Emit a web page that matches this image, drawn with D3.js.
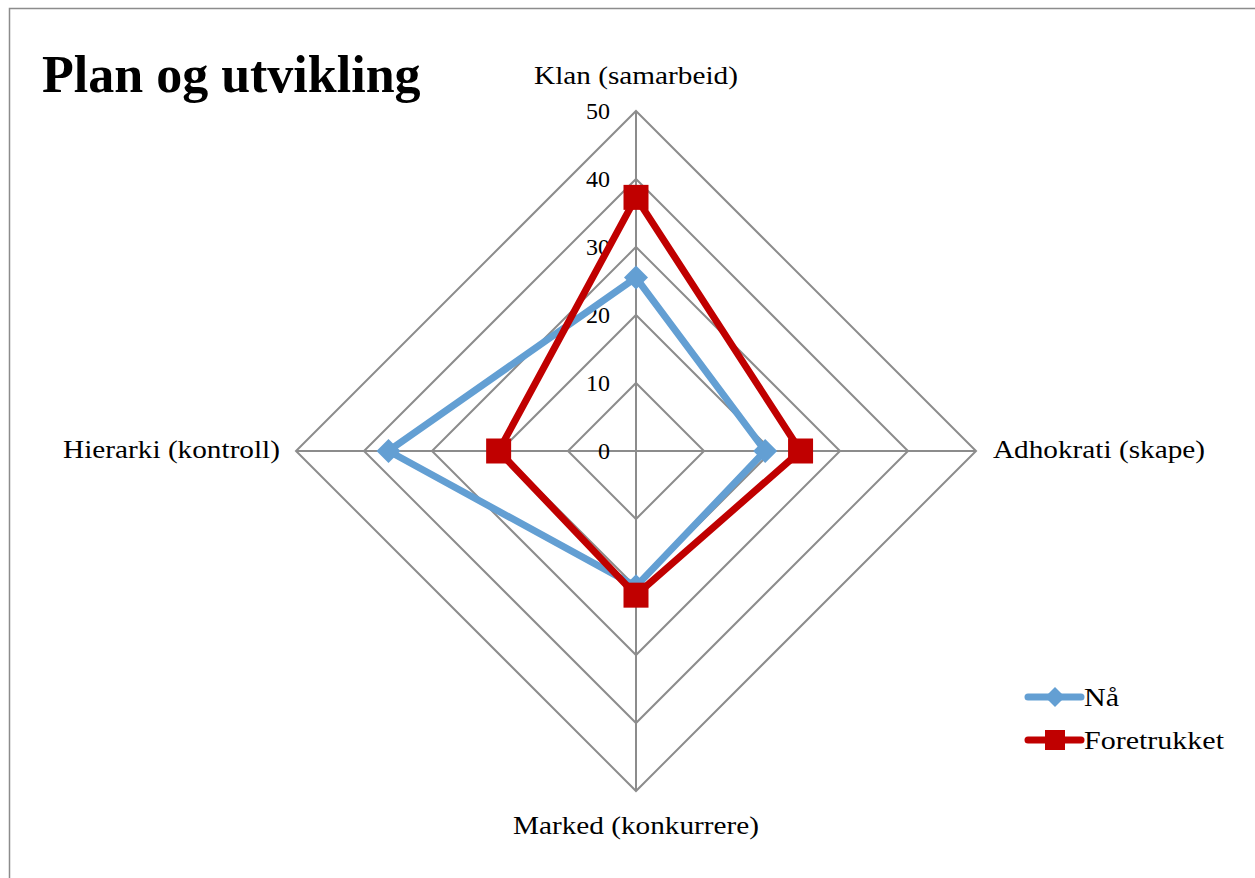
<!DOCTYPE html>
<html>
<head>
<meta charset="utf-8">
<script src="https://cdn.jsdelivr.net/npm/d3@7"></script>
<style>
  html, body { margin: 0; padding: 0; background: #fff; }
  svg { display: block; }
  text { font-family: "Liberation Serif", "DejaVu Serif", serif; fill: #000; }
</style>
</head>
<body>
<svg id="chart" width="1255" height="878"></svg>
<script>
// Axes of the culture profile (clockwise from top)
const categories = ["Klan (samarbeid)", "Adhokrati (skape)", "Marked (konkurrere)", "Hierarki (kontroll)"];
const seriesNames = ["Nå", "Foretrukket"];
const naValues = [25.5, 19.0, 19.9, 36.4];
const foretrukketValues = [37.3, 24.2, 21.2, 20.2];
const tickValues = [0, 10, 20, 30, 40, 50];

const svg = d3.select("#chart");
const cx = 636, cy = 451, R = 340;
const colors = { "Nå": "#639fd3", "Foretrukket": "#c00000" };

// widen the serif text a little so it sets like a book face
function widen(sel, k) {
  sel.each(function () {
    const w = this.getComputedTextLength();
    d3.select(this).attr("textLength", w * k).attr("lengthAdjust", "spacingAndGlyphs");
  });
}

// outer frame of the chart area
svg.append("path")
  .attr("d", "M9.5,878 L9.5,8.5 L1255,8.5")
  .attr("fill", "none").attr("stroke", "#8c8c8c").attr("stroke-width", 1.5);

svg.append("text").attr("x", 42).attr("y", 92)
  .attr("font-size", 52).attr("font-weight", "bold")
  .text("Plan og utvikling");

const r = d3.scaleLinear().domain([0, 50]).range([0, R]);
const angle = i => (i / categories.length) * 2 * Math.PI;
const pt = (i, v) => [cx + r(v) * Math.sin(angle(i)), cy - r(v) * Math.cos(angle(i))];

const grid = svg.append("g").attr("stroke", "#8c8c8c").attr("stroke-width", 2).attr("fill", "none");
tickValues.filter(t => t > 0).forEach(t => {
  grid.append("path").attr("d", d3.line()(categories.map((c, i) => pt(i, t))) + "Z");
});
categories.forEach((c, i) => {
  grid.append("line").attr("x1", cx).attr("y1", cy)
    .attr("x2", pt(i, 50)[0]).attr("y2", pt(i, 50)[1]);
});

// tick labels along the top spoke
svg.append("g").selectAll("text").data(tickValues).join("text")
  .attr("x", cx - 26).attr("y", d => cy - r(d))
  .attr("dy", "0.35em").attr("text-anchor", "end").attr("font-size", 24)
  .text(d => d);

// category labels
const labelPos = [
  { x: cx, y: 84, anchor: "middle" },
  { x: 993, y: 458, anchor: "start" },
  { x: cx, y: 834, anchor: "middle" },
  { x: 280, y: 458, anchor: "end" }
];
svg.append("g").selectAll("text").data(categories).join("text")
  .attr("x", (d, i) => labelPos[i].x).attr("y", (d, i) => labelPos[i].y)
  .attr("text-anchor", (d, i) => labelPos[i].anchor).attr("font-size", 25)
  .text(d => d)
  .call(widen, 1.17);

const series = [
  { name: seriesNames[0], values: naValues, marker: "diamond" },
  { name: seriesNames[1], values: foretrukketValues, marker: "square" }
];

const diamond = (x, y, s) => `M${x},${y - s}L${x + s},${y}L${x},${y + s}L${x - s},${y}Z`;
const square = (x, y, s) => `M${x - s},${y - s}h${2 * s}v${2 * s}h${-2 * s}Z`;

series.forEach(s => {
  const pts = s.values.map((v, i) => pt(i, v));
  svg.append("path").attr("d", d3.line()(pts) + "Z")
    .attr("fill", "none").attr("stroke", colors[s.name])
    .attr("stroke-width", 7).attr("stroke-linejoin", "miter");
  svg.append("g").selectAll("path").data(pts).join("path")
    .attr("d", p => s.marker === "diamond" ? diamond(p[0], p[1], 12) : square(p[0], p[1], 12.5))
    .attr("fill", colors[s.name]);
});

// legend
const legend = svg.append("g");
series.forEach((s, k) => {
  const y = 697 + k * 43;
  legend.append("line").attr("x1", 1028).attr("x2", 1081).attr("y1", y).attr("y2", y)
    .attr("stroke", colors[s.name]).attr("stroke-width", 7).attr("stroke-linecap", "round");
  legend.append("path")
    .attr("d", s.marker === "diamond" ? diamond(1055, y, 10) : square(1055, y, 10))
    .attr("fill", colors[s.name]);
  legend.append("text").attr("x", 1084).attr("y", y).attr("dy", "0.35em")
    .attr("font-size", 25).text(s.name)
    .call(widen, 1.2);
});
</script>
</body>
</html>
